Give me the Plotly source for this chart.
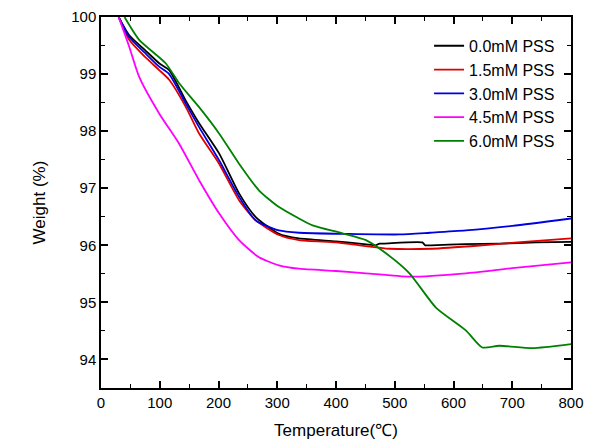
import plotly.graph_objects as go

names = ["0.0mM PSS", "1.5mM PSS", "3.0mM PSS", "4.5mM PSS", "6.0mM PSS"]
colors = ["#000000", "#e00000", "#0000e0", "#ff00ff", "#008000"]

x_black = [30, 48, 75, 99, 116, 144, 167, 201, 235, 263, 303, 337, 400, 440, 468, 474, 482, 547, 552, 562, 620, 678, 740, 800]
y_black = [100.0, 99.68, 99.42, 99.19, 99.07, 98.54, 98.14, 97.61, 96.91, 96.5, 96.2, 96.12, 96.07, 96.03, 96.0, 96.03, 96.03, 96.05, 96.0, 96.0, 96.02, 96.03, 96.05, 96.06]

x_red = [30, 48, 75, 99, 116, 144, 167, 201, 235, 263, 303, 337, 400, 440, 491, 564, 649, 720, 800]
y_red = [100.0, 99.6, 99.3, 99.07, 98.9, 98.43, 97.96, 97.43, 96.79, 96.44, 96.18, 96.09, 96.05, 96.0, 95.94, 95.94, 96.0, 96.06, 96.12]

x_blue = [30, 48, 75, 99, 116, 144, 167, 201, 235, 263, 303, 337, 420, 508, 560, 621, 700, 800]
y_blue = [100.0, 99.65, 99.37, 99.13, 99.0, 98.49, 98.07, 97.49, 96.85, 96.44, 96.26, 96.22, 96.2, 96.19, 96.22, 96.26, 96.34, 96.47]

x_mag = [30, 48, 65, 99, 133, 167, 201, 235, 269, 303, 337, 400, 451, 525, 621, 700, 800]
y_mag = [100.0, 99.48, 98.95, 98.31, 97.78, 97.14, 96.56, 96.09, 95.79, 95.65, 95.59, 95.55, 95.51, 95.45, 95.51, 95.6, 95.7]

x_green = [40, 65, 110, 133, 167, 201, 235, 269, 303, 337, 360, 411, 451, 485, 525, 570, 621, 649, 678, 734, 800]
y_green = [100.0, 99.6, 99.19, 98.84, 98.42, 97.96, 97.43, 96.96, 96.67, 96.47, 96.35, 96.21, 96.09, 95.86, 95.51, 94.91, 94.51, 94.21, 94.24, 94.2, 94.27]

series = [(x_black, y_black), (x_red, y_red), (x_blue, y_blue), (x_mag, y_mag), (x_green, y_green)]

fig = go.Figure()
for (xs, ys), n, c in zip(series, names, colors):
    fig.add_trace(go.Scatter(x=xs, y=ys, mode="lines", name=n,
                             line=dict(color=c, width=1.8, shape="spline", smoothing=0.6)))

tickfont = dict(family="Liberation Sans, Arial", size=15, color="black")
titlefont = dict(family="Liberation Sans, Arial", size=17, color="black")

axis_common = dict(showline=True, linecolor="black", linewidth=1.5, mirror="ticks",
                   ticks="inside", ticklen=7, tickwidth=1.5, tickcolor="black",
                   showgrid=False, zeroline=False, automargin=False,
                   tickfont=tickfont)

fig.update_xaxes(range=[0, 800], dtick=100, tick0=0,
                 minor=dict(ticks="inside", ticklen=4, dtick=50, tickcolor="black", tickwidth=1.2),
                 title=dict(text="Temperature(℃)", font=titlefont, standoff=14),
                 **axis_common)
fig.update_yaxes(range=[93.5, 100], dtick=1, tick0=94,
                 minor=dict(ticks="inside", ticklen=4, dtick=0.5, tickcolor="black", tickwidth=1.2),
                 title=dict(text="Weight (%)", font=titlefont, standoff=21),
                 **axis_common)

fig.update_layout(
    width=592, height=437,
    margin=dict(l=93, r=29, t=9, b=57),
    plot_bgcolor="white", paper_bgcolor="white",
    showlegend=True,
    legend=dict(x=0.698, y=0.968, xanchor="left", yanchor="top",
                bgcolor="rgba(0,0,0,0)", borderwidth=0,
                font=dict(family="Liberation Sans, Arial", size=16, color="black"),
                tracegroupgap=0, itemwidth=30),
)

fig.write_html("out.html")
